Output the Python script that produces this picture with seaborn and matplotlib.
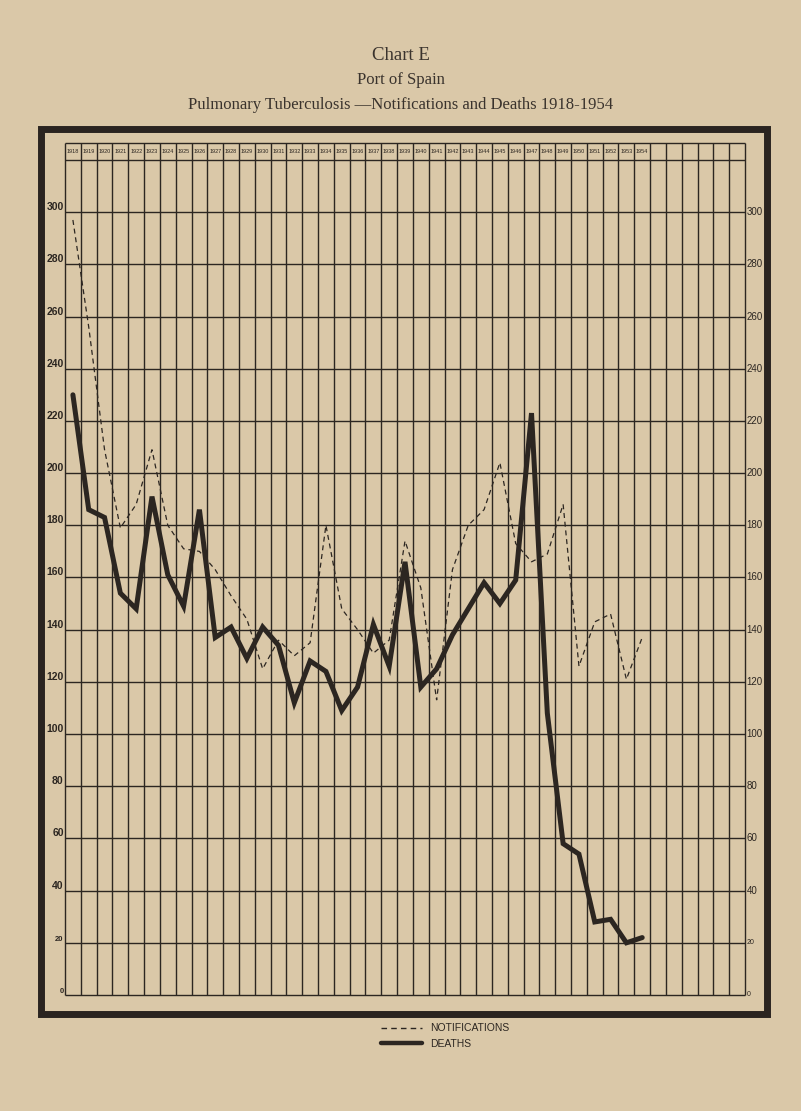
import matplotlib
matplotlib.use("Agg")

import numpy as np
import pandas as pd
import seaborn as sns
from matplotlib import pyplot as plt
from matplotlib.lines import Line2D
from matplotlib.patches import Rectangle
from matplotlib.transforms import blended_transform_factory

# values (rate, 1918-1954)
YEARS = list(range(1918, 1955))
NOTIFICATIONS = [297, 256, 209, 179, 188, 209, 180, 171, 170, 163,
                 153, 144, 125, 136, 130, 135, 180, 148, 140, 131,
                 136, 174, 156, 113, 163, 180, 186, 204, 173, 166,
                 169, 188, 126, 143, 146, 121, 137]
DEATHS = [230, 186, 183, 154, 148, 191, 161, 149, 186, 137,
          141, 129, 141, 134, 112, 128, 124, 109, 118, 142,
          126, 166, 118, 125, 138, 148, 158, 150, 159, 223,
          108, 58, 54, 28, 29, 20, 22]
Y_LABELS = list(range(300, -1, -20))
N_COLUMNS = 43  # 37 year columns + 6 blank ones on the right

PAPER = "#dac8a8"
INK = "#2c2621"

sns.set_theme(style="white")
plt.rcParams["font.family"] = ["Liberation Sans", "DejaVu Sans"]

W, H = 801, 1111
fig = plt.figure(figsize=(W / 100, H / 100), dpi=100, facecolor=PAPER)
ax = fig.add_axes([65 / W, (H - 995) / H, 680 / W, 852 / H])
ax.set_facecolor(PAPER)

x0, x1 = YEARS[0] - 0.5, YEARS[0] - 0.5 + N_COLUMNS
top = 326.5
ax.set_xlim(x0, x1)
ax.set_ylim(0, top)
for s in ax.spines.values():
    s.set_visible(False)
ax.set_xticks([])
ax.set_yticks([])

# ruled paper
ax.vlines(np.arange(x0, x1 + 0.1, 1), 0, top, color=INK, lw=1.0, clip_on=False)
ax.hlines(list(range(0, 321, 20)) + [top], x0, x1, color=INK, lw=1.0, clip_on=False)

# year header row
for yr in YEARS:
    ax.text(yr, 323.2, str(yr), ha="center", va="center", fontsize=4, color=INK)

df = pd.DataFrame({
    "year": YEARS * 2,
    "rate": NOTIFICATIONS + DEATHS,
    "series": ["NOTIFICATIONS"] * len(YEARS) + ["DEATHS"] * len(YEARS),
})
sns.lineplot(
    data=df, x="year", y="rate", hue="series", style="series", size="series",
    palette={"NOTIFICATIONS": INK, "DEATHS": INK},
    dashes={"NOTIFICATIONS": (4, 3), "DEATHS": ""},
    sizes={"NOTIFICATIONS": 0.9, "DEATHS": 3.6},
    legend=False, ax=ax, solid_joinstyle="miter", dash_joinstyle="miter",
)
ax.set_xlabel("")
ax.set_ylabel("")

# scale numbers on both sides
tr = blended_transform_factory(ax.transAxes, ax.transData)
for v in Y_LABELS:
    fs = 7.5 if v >= 40 else 5.5
    ax.text(-0.002, v, str(v), transform=tr, ha="right", va="bottom",
            fontsize=fs, color=INK, fontweight="bold")
    ax.text(1.002, v, str(v), transform=tr, ha="left", va="center",
            fontsize=fs - 0.5, color=INK)

# dark plate border
fig.add_artist(Rectangle((41 / W, 1 - 1014 / H), (767 - 41) / W, (1014 - 129) / H,
                         transform=fig.transFigure, fill=False, ec="#2a2420", lw=5))

# titles
serif = ["Liberation Serif", "DejaVu Serif"]
fig.text(0.5, 1 - 55 / H, "Chart E", ha="center", va="center", fontsize=13.5,
         family=serif, color="#3a332d")
fig.text(0.5, 1 - 80 / H, "Port of Spain", ha="center", va="center", fontsize=12,
         family=serif, color="#3a332d")
fig.text(0.5, 1 - 105 / H, "Pulmonary Tuberculosis \u2014Notifications and Deaths 1918-1954",
         ha="center", va="center", fontsize=12, family=serif, color="#3a332d")

handles = [Line2D([], [], color=INK, lw=1.0, dashes=(4, 3)),
           Line2D([], [], color=INK, lw=3.2)]
fig.legend(handles, ["NOTIFICATIONS", "DEATHS"], loc="upper left",
           bbox_to_anchor=(372 / W, 1 - 1014 / H), frameon=False,
           handlelength=3.9, handletextpad=0.8, labelspacing=0.55,
           fontsize=7.5, labelcolor=INK)

fig.savefig("out.png", dpi=100, facecolor=PAPER)
